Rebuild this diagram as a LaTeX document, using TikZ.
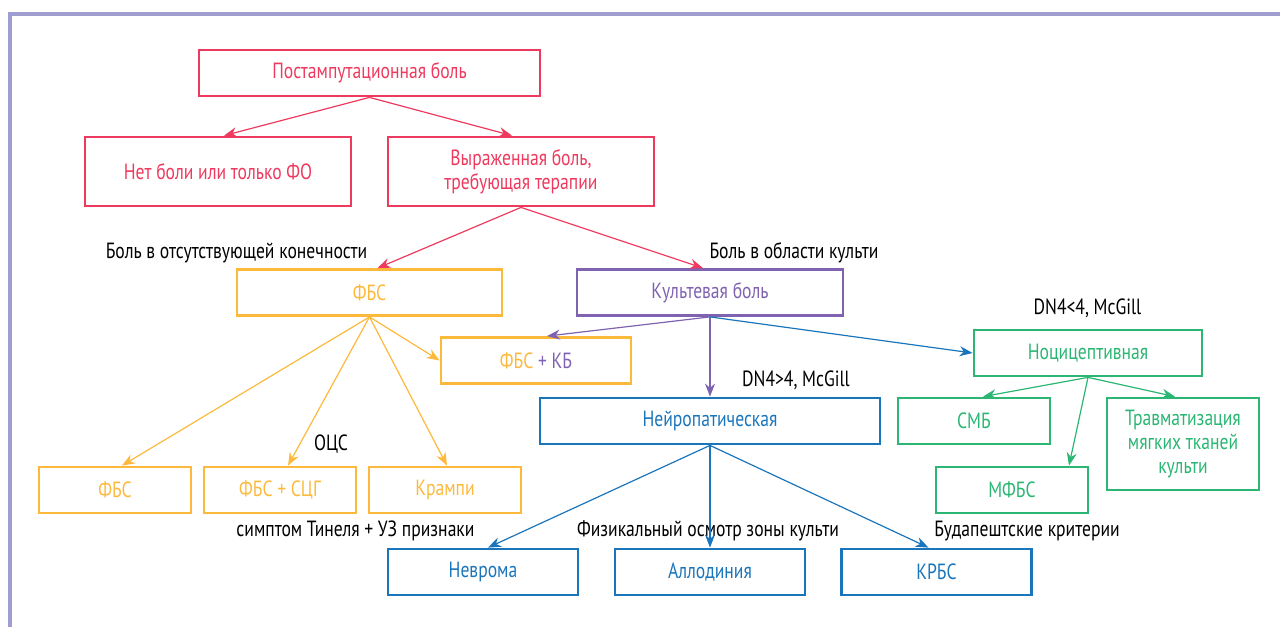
\documentclass[tikz,border=0pt]{standalone}
\usepackage{fontspec}
\setmainfont{PT Sans}[FakeStretch=0.8]
\usepackage{tikz}
\usetikzlibrary{arrows.meta,positioning}

\definecolor{painred}{HTML}{EE3A5E}
\definecolor{phantomc}{HTML}{FDB93C}
\definecolor{stumpc}{HTML}{7F63B1}
\definecolor{neuroc}{HTML}{1B75BB}
\definecolor{nocic}{HTML}{2BB673}
\definecolor{framec}{HTML}{A09ED0}

\begin{document}
\begin{tikzpicture}[x=0.5pt, y=-0.5pt,
    box/.style={draw, line width=1.4pt, minimum height=23pt, inner sep=2pt, align=center, font=\fontsize{11}{12}\selectfont},
    arr/.style={-{Stealth[length=6.5pt,width=5pt]}, line width=0.6pt},
    lbl/.style={anchor=base, inner sep=0pt, font=\fontsize{11}{12}\selectfont}
]
\useasboundingbox (0,0) rectangle (1280,627);
\draw[framec, line width=2pt] (10,627) -- (10,13.5) -- (1280,13.5);

\node[box, painred, minimum width=170.5pt] (post) at (369.5,73) {Постампутационная боль};
\node[box, painred, minimum width=133pt, minimum height=34.5pt] (none) at (218,171.5) {Нет боли или только ФО};
\node[box, painred, minimum width=133pt, minimum height=34.5pt] (expr) at (521,171.5) {Выраженная боль,\\требующая терапии};
\node[box, phantomc, minimum width=132.5pt] (fbs) at (369.5,292.5) {ФБС};
\node[box, stumpc, minimum width=133pt] (stump) at (710,292.5) {Культевая боль};
\node[box, phantomc, minimum width=95pt] (fbskb) at (536,360.5) {ФБС \textcolor{stumpc}{+ КБ}};
\node[box, phantomc, minimum width=76pt] (fbs2) at (115,490) {ФБС};
\node[box, phantomc, minimum width=76pt] (fbsczg) at (280,490) {ФБС + СЦГ};
\node[box, phantomc, minimum width=76pt] (krampi) at (445,490) {Крампи};
\node[box, neuroc, minimum width=170pt] (neuro) at (710,421) {Нейропатическая};
\node[box, nocic, minimum width=114pt] (noci) at (1088,353) {Ноцицептивная};
\node[box, nocic, minimum width=76pt] (smb) at (974,421) {СМБ};
\node[box, nocic, minimum width=76pt, minimum height=46pt] (trauma) at (1183,444) {Травматизация\\мягких тканей\\культи};
\node[box, nocic, minimum width=76pt] (mfbs) at (1012,490) {МФБС};
\node[box, neuroc, minimum width=95pt] (neuroma) at (483,572) {Неврома};
\node[box, neuroc, minimum width=95pt] (allod) at (710,572) {Аллодиния};
\node[box, neuroc, minimum width=95pt] (krbs) at (936.5,572) {КРБС};

\node[lbl] (lphantom) at (236.5,258) {Боль в отсутствующей конечности};
\node[lbl] (lstump) at (794,258) {Боль в области культи};
\node[lbl] (lnoci) at (1087.5,314) {DN4<4, McGill};
\node[lbl] (lneuro) at (796,386) {DN4>4, McGill};
\node[lbl] (locs) at (331,450.7) {ОЦС};
\node[lbl] (ltinel) at (355.5,536.7) {симптом Тинеля + УЗ признаки};
\node[lbl] (lexam) at (708,536.7) {Физикальный осмотр зоны культи};
\node[lbl] (lbudap) at (1027,536.7) {Будапештские критерии};

\draw[arr, painred] (post.south) -- ([xshift=3pt]none.north);
\draw[arr, painred] (post.south) -- ([xshift=-4.5pt]expr.north);
\draw[arr, painred] (expr.south) -- ([xshift=4pt]fbs.north);
\draw[arr, painred] (expr.south) -- ([xshift=-3.5pt]stump.north);
\draw[arr, phantomc] (fbs.south) -- (fbskb.west);
\draw[arr, phantomc] (fbs.south) -- ([xshift=3.5pt]fbs2.north);
\draw[arr, phantomc] (fbs.south) -- ([xshift=4pt]fbsczg.north);
\draw[arr, phantomc] (fbs.south) -- ([xshift=1pt]krampi.north);
\draw[arr, stumpc] (stump.south) -- ([xshift=5.5pt]fbskb.north);
\draw[arr, stumpc] (stump.south) -- (neuro.north);
\draw[arr, neuroc] (stump.south) -- (noci.west);
\draw[arr, neuroc] (neuro.south) -- ([xshift=2.5pt]neuroma.north);
\draw[arr, neuroc] (neuro.south) -- (allod.north);
\draw[arr, neuroc] (neuro.south) -- ([xshift=-4pt]krbs.north);
\draw[arr, nocic] (noci.south) -- ([xshift=4.5pt]smb.north);
\draw[arr, nocic] (noci.south) -- ([xshift=28.5pt]mfbs.north);
\draw[arr, nocic] (noci.south) -- ([xshift=-4pt]trauma.north);
\end{tikzpicture}
\end{document}
